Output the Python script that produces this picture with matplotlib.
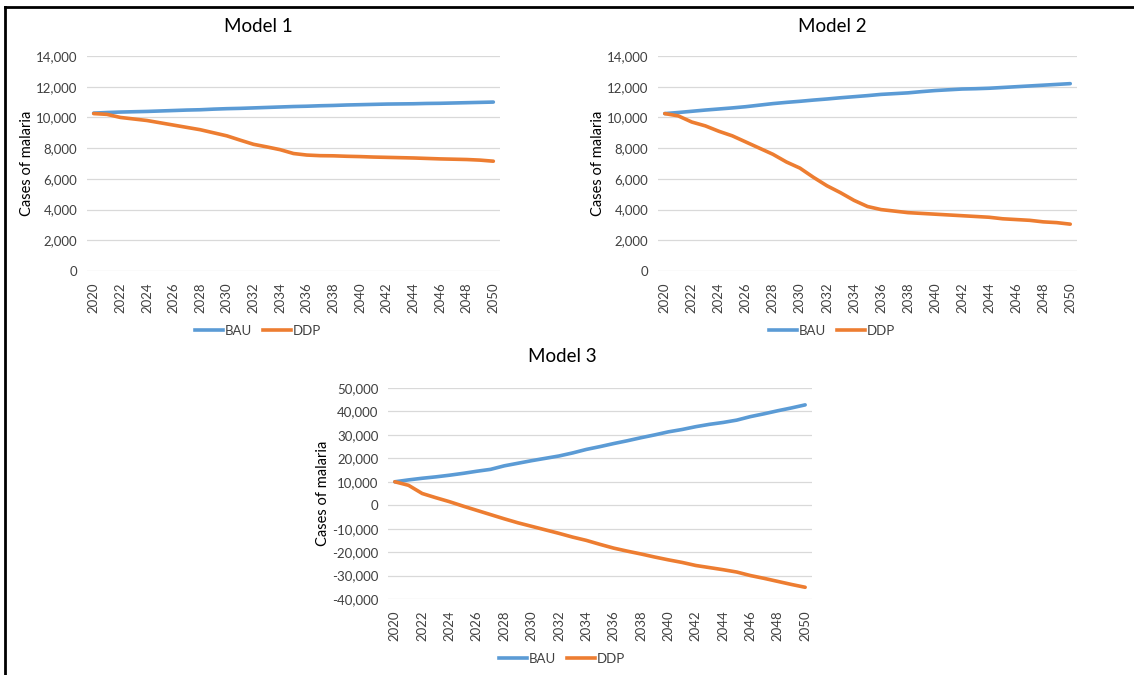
import matplotlib.pyplot as plt
import matplotlib.ticker as mticker
from matplotlib.lines import Line2D

plt.rcParams['font.family'] = ['Lato', 'DejaVu Sans']

years = list(range(2020, 2051))
year_labels = [str(y) for y in years[::2]]

# Model 1
m1_bau = [10280, 10320, 10350, 10370, 10390, 10420, 10450, 10480, 10500, 10540, 10570,
          10590, 10620, 10650, 10680, 10710, 10730, 10760, 10780, 10810, 10830,
          10850, 10870, 10880, 10890, 10910, 10920, 10940, 10960, 10980, 11000]
m1_ddp = [10250, 10200, 10000, 9900, 9800, 9650, 9500, 9350, 9200, 9000, 8800,
          8520, 8250, 8080, 7900, 7650, 7550, 7510, 7500, 7470, 7450,
          7420, 7400, 7380, 7360, 7330, 7300, 7280, 7260, 7220, 7150]

# Model 2
m2_bau = [10250, 10320, 10400, 10480, 10550, 10620, 10700, 10800, 10900, 10980, 11050,
          11130, 11200, 11280, 11350, 11420, 11500, 11550, 11600, 11680, 11750,
          11800, 11850, 11870, 11900, 11950, 12000, 12050, 12100, 12150, 12200]
m2_ddp = [10250, 10100, 9700, 9450, 9100, 8800, 8400, 8000, 7600, 7100, 6700,
          6100, 5550, 5100, 4600, 4200, 4000, 3900, 3800, 3750, 3700,
          3650, 3600, 3550, 3500, 3400, 3350, 3300, 3200, 3150, 3050]

# Model 3
m3_bau = [10000, 10800, 11500, 12100, 12800, 13600, 14500, 15300, 16800, 17900, 19000,
          20000, 21000, 22300, 23800, 25000, 26300, 27500, 28800, 30000, 31300,
          32300, 33500, 34500, 35300, 36300, 37800, 39000, 40300, 41500, 42800]
m3_ddp = [10000, 8500, 5000, 3200, 1500, -400, -2200, -4000, -5800, -7500, -9000,
          -10500, -12000, -13600, -15000, -16700, -18300, -19600, -20800, -22100, -23300,
          -24400, -25700, -26600, -27500, -28500, -30000, -31200, -32500, -33800, -35000]

blue = '#5B9BD5'
orange = '#ED7D31'
grid_col = '#D9D9D9'
text_col = '#404040'

W, H = 1134, 675
fig = plt.figure(figsize=(W / 100, H / 100), dpi=100)


def px_axes(x0, x1, ytop, ybot):
    return fig.add_axes([x0 / W, 1 - ybot / H, (x1 - x0) / W, (ybot - ytop) / H])


def draw_panel(ax, title, bau, ddp, ymin, ymax, step, title_xy, legend_y, ylab_off):
    x = list(range(len(years)))
    ax.plot(x, bau, color=blue, lw=2.6, solid_capstyle='round')
    ax.plot(x, ddp, color=orange, lw=2.6, solid_capstyle='round')
    ax.set_xlim(-0.5, len(years) - 0.5)
    ax.set_ylim(ymin, ymax)
    ax.yaxis.set_major_locator(mticker.MultipleLocator(step))
    ax.yaxis.set_major_formatter(mticker.FuncFormatter(lambda v, p: f'{v:,.0f}'))
    ax.set_xticks(x[::2])
    ax.set_xticklabels(year_labels, rotation=90)
    ax.grid(axis='y', color=grid_col, lw=0.9)
    ax.set_axisbelow(True)
    for s in ax.spines.values():
        s.set_visible(False)
    ax.tick_params(axis='both', length=0, labelsize=9.5, colors=text_col)
    ax.tick_params(axis='y', pad=7)
    ax.tick_params(axis='x', pad=8)
    ax.set_ylabel('Cases of malaria', fontsize=10.5, color='black')
    # place y label a fixed number of pixels left of the plot area
    width_px = ax.get_position().width * W
    ax.yaxis.set_label_coords(-ylab_off / width_px, 0.5)
    fig.text(title_xy[0] / W, 1 - title_xy[1] / H, title, ha='center', va='center',
             fontsize=13.5, color='black')
    handles = [Line2D([], [], color=blue, lw=2.6), Line2D([], [], color=orange, lw=2.6)]
    fig.legend(handles, ['BAU', 'DDP'], loc='center', ncol=2,
               bbox_to_anchor=(title_xy[0] / W, 1 - legend_y / H), frameon=False,
               fontsize=9.5, handlelength=2.1, handletextpad=0.1, columnspacing=0.9,
               labelcolor=text_col)


ax1 = px_axes(87, 500, 56, 271)
draw_panel(ax1, 'Model 1', m1_bau, m1_ddp, 0, 14000, 2000, (258, 27), 331, 53)

ax2 = px_axes(658, 1077, 56, 271)
draw_panel(ax2, 'Model 2', m2_bau, m2_ddp, 0, 14000, 2000, (832, 27), 331, 53)

ax3 = px_axes(388, 812, 388, 599)
draw_panel(ax3, 'Model 3', m3_bau, m3_ddp, -40000, 50000, 10000, (562, 357), 659, 58)

# frame lines on top and left edge
fig.add_artist(Line2D([5 / W, 1], [1 - 7 / H, 1 - 7 / H], color='black', lw=2))
fig.add_artist(Line2D([5 / W, 5 / W], [0, 1 - 7 / H], color='black', lw=2))

fig.savefig('out.png', dpi=100, facecolor='white')
